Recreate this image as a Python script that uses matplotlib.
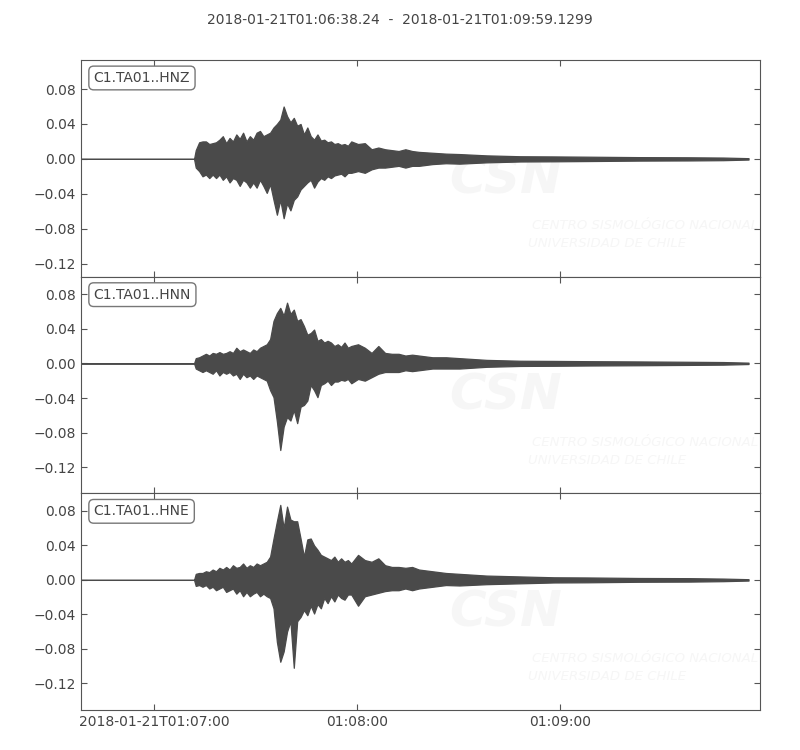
import matplotlib
matplotlib.use("Agg")
from matplotlib import pyplot as plt
import numpy as np

# envelope of each trace: seconds after 2018-01-21T01:06:38.24, upper / lower amplitude
t_env = [0, 33.5, 34, 35, 36, 37, 38, 39, 40, 41, 42, 43, 44, 45, 46, 47, 48, 49, 50,
         51, 52, 53, 54, 55, 56, 57, 58, 59, 60, 61, 62, 63, 64, 65, 66, 67, 68, 69, 70,
         71, 72, 73, 74, 75, 76, 77, 78, 79, 80, 82, 84, 86, 88, 90, 92, 94, 96, 98, 100,
         104, 108, 112, 120, 130, 140, 150, 165, 180, 190, 197.5]

hnz_up = [0, 0, 0.010, 0.019, 0.020, 0.020, 0.017, 0.018, 0.019, 0.022, 0.026, 0.018, 0.024,
          0.020, 0.028, 0.023, 0.030, 0.020, 0.026, 0.022, 0.030, 0.032, 0.026, 0.028, 0.030,
          0.036, 0.040, 0.045, 0.060, 0.049, 0.042, 0.047, 0.038, 0.040, 0.028, 0.036, 0.026,
          0.022, 0.028, 0.021, 0.022, 0.019, 0.020, 0.017, 0.018, 0.016, 0.017, 0.015, 0.020,
          0.017, 0.018, 0.011, 0.013, 0.011, 0.010, 0.009, 0.011, 0.009, 0.008,
          0.007, 0.006, 0.0055, 0.004, 0.003, 0.0028, 0.0025, 0.002, 0.0018, 0.0015, 0.0008]
hnz_lo = [0, 0, -0.010, -0.014, -0.020, -0.018, -0.022, -0.018, -0.022, -0.018, -0.024, -0.020,
          -0.027, -0.022, -0.024, -0.031, -0.024, -0.027, -0.033, -0.027, -0.033, -0.024,
          -0.031, -0.039, -0.029, -0.047, -0.064, -0.047, -0.068, -0.051, -0.059, -0.047,
          -0.043, -0.035, -0.031, -0.027, -0.024, -0.033, -0.026, -0.022, -0.024, -0.020,
          -0.022, -0.019, -0.018, -0.017, -0.020, -0.016, -0.016, -0.014, -0.016, -0.012,
          -0.010, -0.010, -0.009, -0.008, -0.010, -0.008, -0.008,
          -0.006, -0.005, -0.0055, -0.004, -0.003, -0.0028, -0.0025, -0.002, -0.0018, -0.0015, -0.0008]

hnn_up = [0, 0, 0.006, 0.007, 0.009, 0.011, 0.009, 0.012, 0.011, 0.013, 0.011, 0.012, 0.014,
          0.012, 0.018, 0.014, 0.016, 0.014, 0.012, 0.016, 0.014, 0.018, 0.020, 0.022, 0.028,
          0.049, 0.058, 0.064, 0.055, 0.070, 0.057, 0.062, 0.049, 0.051, 0.043, 0.033, 0.035,
          0.039, 0.026, 0.028, 0.024, 0.026, 0.024, 0.020, 0.022, 0.019, 0.024, 0.018, 0.020,
          0.022, 0.018, 0.012, 0.020, 0.012, 0.011, 0.011, 0.009, 0.010, 0.009,
          0.007, 0.007, 0.006, 0.004, 0.003, 0.0028, 0.0025, 0.0022, 0.0018, 0.0015, 0.0008]
hnn_lo = [0, 0, -0.006, -0.008, -0.010, -0.008, -0.010, -0.012, -0.008, -0.014, -0.010, -0.012,
          -0.010, -0.014, -0.012, -0.018, -0.012, -0.016, -0.014, -0.018, -0.014, -0.016,
          -0.018, -0.020, -0.031, -0.039, -0.067, -0.100, -0.073, -0.062, -0.066, -0.054,
          -0.069, -0.050, -0.048, -0.043, -0.025, -0.031, -0.039, -0.025, -0.023, -0.020,
          -0.025, -0.021, -0.021, -0.019, -0.020, -0.018, -0.023, -0.018, -0.020, -0.016,
          -0.012, -0.010, -0.010, -0.010, -0.008, -0.009, -0.008,
          -0.006, -0.006, -0.006, -0.004, -0.003, -0.0028, -0.0025, -0.0022, -0.0018, -0.0015, -0.0008]

hne_up = [0, 0, 0.007, 0.008, 0.008, 0.010, 0.009, 0.012, 0.010, 0.014, 0.012, 0.015, 0.012,
          0.017, 0.014, 0.015, 0.019, 0.014, 0.017, 0.015, 0.019, 0.017, 0.019, 0.021, 0.027,
          0.048, 0.068, 0.087, 0.060, 0.085, 0.070, 0.068, 0.068, 0.048, 0.027, 0.047, 0.048,
          0.040, 0.035, 0.029, 0.027, 0.025, 0.023, 0.027, 0.021, 0.025, 0.021, 0.023, 0.019,
          0.029, 0.023, 0.021, 0.025, 0.017, 0.015, 0.015, 0.014, 0.015, 0.012,
          0.010, 0.008, 0.007, 0.005, 0.004, 0.003, 0.0028, 0.0022, 0.002, 0.0015, 0.0008]
hne_lo = [0, 0, -0.007, -0.006, -0.008, -0.006, -0.010, -0.008, -0.012, -0.010, -0.008, -0.014,
          -0.012, -0.010, -0.016, -0.012, -0.019, -0.014, -0.019, -0.016, -0.014, -0.019,
          -0.016, -0.019, -0.021, -0.033, -0.072, -0.095, -0.083, -0.060, -0.048, -0.102,
          -0.048, -0.043, -0.035, -0.041, -0.030, -0.039, -0.028, -0.033, -0.021, -0.027,
          -0.019, -0.025, -0.017, -0.021, -0.023, -0.017, -0.017, -0.030, -0.019, -0.017,
          -0.015, -0.013, -0.012, -0.012, -0.010, -0.012, -0.010,
          -0.008, -0.006, -0.0065, -0.005, -0.004, -0.003, -0.0028, -0.0022, -0.002, -0.0015, -0.0008]

channels = ["C1.TA01..HNZ", "C1.TA01..HNN", "C1.TA01..HNE"]
uppers = [hnz_up, hnn_up, hne_up]
lowers = [hnz_lo, hnn_lo, hne_lo]
ylims = [(-0.135, 0.1133), (-0.150, 0.100), (-0.151, 0.1004)]
yticks = [0.08, 0.04, 0.0, -0.04, -0.08, -0.12]

duration = 200.8899
xtick_pos = [21.76, 81.76, 141.76]
xtick_labels = ["2018-01-21T01:07:00", "01:08:00", "01:09:00"]
title = "2018-01-21T01:06:38.24  -  2018-01-21T01:09:59.1299"

trace_color = "#4a4a4a"
text_color = "#444444"
edge_color = "#555555"
mark_color = "#f6f6f6"

plt.rcParams["font.family"] = "DejaVu Sans"
fig, axs = plt.subplots(3, 1, figsize=(8, 7.5), dpi=100, sharex=True)
fig.subplots_adjust(left=0.101, right=0.95, top=0.92, bottom=0.0533, hspace=0)
fig.suptitle(title, y=0.982, fontsize=10, color=text_color)

ylabels = [("%.2f" % v).replace("-", "\u2212") for v in yticks]

for ax, name, up, lo, yl in zip(axs, channels, uppers, lowers, ylims):
    # faint CSN watermark
    ax.text(0.626, 0.45, "CSN", transform=ax.transAxes, fontsize=36, fontweight="bold",
            fontstyle="italic", color=mark_color, ha="center", va="center", zorder=0)
    ax.text(0.664, 0.236, "CENTRO SISMOLÓGICO NACIONAL", transform=ax.transAxes,
            fontsize=9.5, fontstyle="italic", color=mark_color, va="center", zorder=0)
    ax.text(0.658, 0.153, "UNIVERSIDAD DE CHILE", transform=ax.transAxes,
            fontsize=9.5, fontstyle="italic", color=mark_color, va="center", zorder=0)

    ax.fill_between(t_env, lo, up, facecolor=trace_color, edgecolor=trace_color,
                    linewidth=0.9, zorder=2)
    ax.set_ylim(*yl)
    ax.set_yticks(yticks)
    ax.set_yticklabels(ylabels)
    ax.set_xlim(0, duration)
    ax.tick_params(direction="in", top=True, right=True, length=4, colors=edge_color,
                   labelcolor=text_color, labelsize=10)
    for sp in ax.spines.values():
        sp.set_color(edge_color)
    ax.text(0.019, 0.917, name, transform=ax.transAxes, fontsize=10, color=text_color,
            va="center", ha="left",
            bbox=dict(boxstyle="round,pad=0.35", facecolor="white", edgecolor="#777777"))

axs[-1].set_xticks(xtick_pos)
axs[-1].set_xticklabels(xtick_labels)
for ax in axs[:-1]:
    ax.tick_params(labelbottom=False)

fig.savefig("out.png", dpi=100)
